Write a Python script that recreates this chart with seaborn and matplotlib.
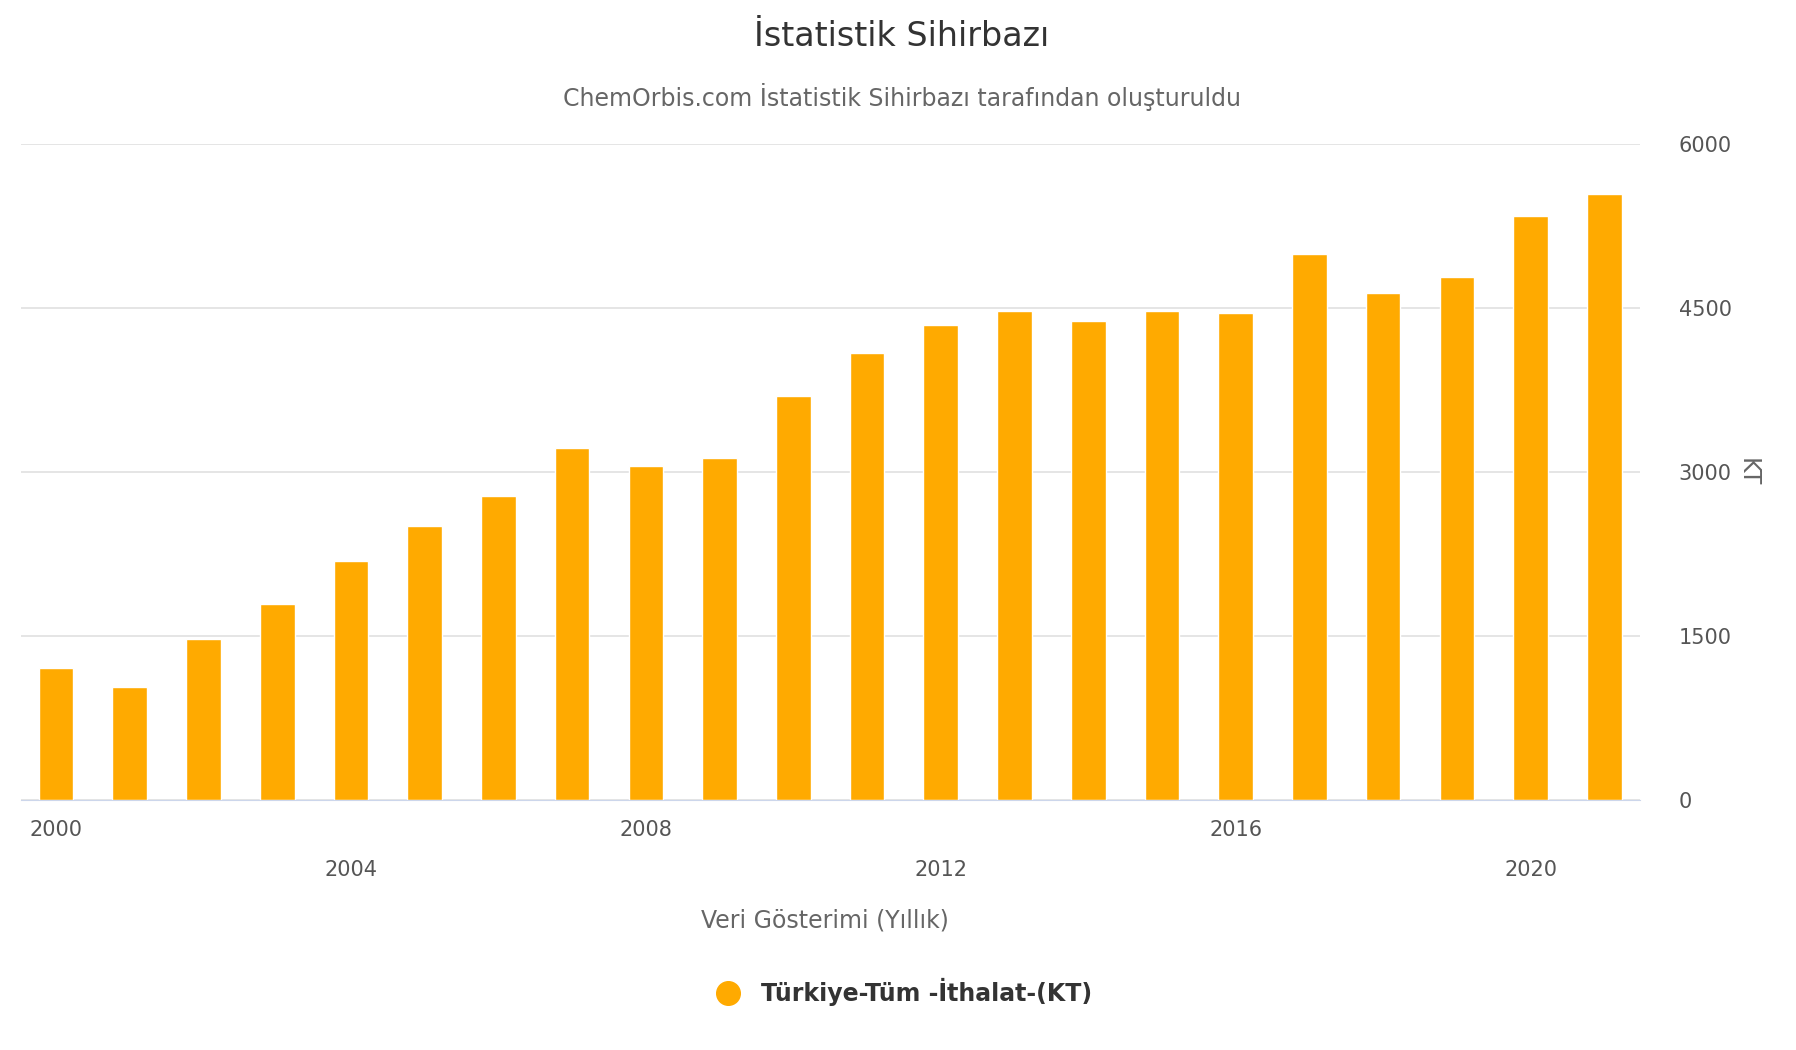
import pandas as pd
import seaborn as sns
import matplotlib.pyplot as plt
from matplotlib.lines import Line2D

years = list(range(2000, 2022))
imports_kt = [1210, 1030, 1475, 1790, 2190, 2505, 2780, 3220, 3055, 3125, 3695,
              4085, 4340, 4475, 4380, 4475, 4455, 4990, 4635, 4780, 5340, 5540]
tick_years = [2000, 2004, 2008, 2012, 2016, 2020]
series_name = "Türkiye-Tüm -İthalat-(KT)"

df = pd.DataFrame({"year": [str(y) for y in years], "kt": imports_kt})

sns.set_style("white")
plt.rcParams['font.family'] = ['DejaVu Sans']

fig = plt.figure(figsize=(17.96, 10.5), dpi=100)
ax = fig.add_axes([0.0115, 0.238, 0.9015, 0.625])

sns.barplot(data=df, x="year", y="kt", color="#ffaa00", width=0.47,
            saturation=1, ax=ax)

ax.set_xlim(-0.48, 21.48)
ax.set_ylim(0, 6000)
ax.yaxis.tick_right()
ax.yaxis.set_label_position("right")
ax.set_yticks([0, 1500, 3000, 4500, 6000])
ax.tick_params(axis="y", length=0, labelsize=15, labelcolor="#555555", pad=28)
ax.grid(axis="y", color="#e0e0e0", linewidth=1.2)
ax.set_axisbelow(True)
for s in ["top", "left", "right"]:
    ax.spines[s].set_visible(False)
ax.spines["bottom"].set_color("#ccd6eb")

pos = [years.index(y) for y in tick_years]
ax.set_xticks(pos)
ax.set_xticklabels([str(y) for y in tick_years])
ax.tick_params(axis="x", length=0, labelsize=15, labelcolor="#555555")
for i, t in enumerate(ax.xaxis.get_major_ticks()):
    t.set_pad(14 if i % 2 == 0 else 43)

ax.set_xlabel("Veri Gösterimi (Yıllık)", fontsize=17, color="#666666", labelpad=30)
ax.xaxis.set_label_coords(0.497, -0.165)
ax.set_ylabel("KT", fontsize=17, color="#666666", rotation=270, labelpad=20)

fig.text(0.502, 0.965, "İstatistik Sihirbazı", ha="center", va="center",
         fontsize=24, color="#333333")
fig.text(0.502, 0.908, "ChemOrbis.com İstatistik Sihirbazı tarafından oluşturuldu",
         ha="center", va="center", fontsize=17, color="#666666")

handle = Line2D([], [], marker="o", linestyle="", markersize=17, color="#ffaa00")
fig.legend([handle], [series_name], loc="center", bbox_to_anchor=(0.5, 0.055),
           frameon=False, prop={"size": 17, "weight": "bold"}, handletextpad=0.4,
           labelcolor="#333333")

fig.savefig("out.png", dpi=100)
